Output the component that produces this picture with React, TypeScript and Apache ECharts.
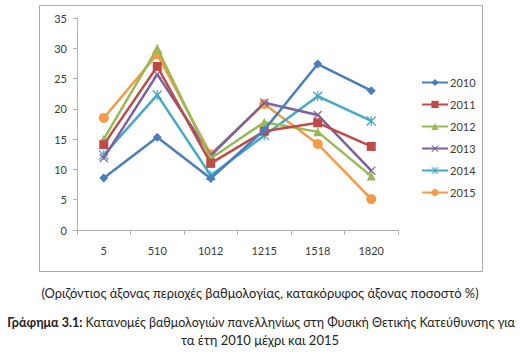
import React, { useEffect, useRef } from "react";
import * as echarts from "echarts";

const categories = ["5", "510", "1012", "1215", "1518", "1820"];
const years = ["2010", "2011", "2012", "2013", "2014", "2015"];
const s2010 = [8.6, 15.3, 8.5, 16.5, 27.4, 23.0];
const s2011 = [14.1, 27.0, 11.0, 16.3, 17.7, 13.8];
const s2012 = [15.0, 30.0, 11.8, 17.8, 16.2, 8.9];
const s2013 = [11.9, 25.7, 12.3, 21.0, 19.0, 9.8];
const s2014 = [12.4, 22.3, 9.0, 15.6, 22.1, 18.0];
const s2015 = [18.5, 29.0, 12.5, 20.8, 14.2, 5.1];
const seriesValues = [s2010, s2011, s2012, s2013, s2014, s2015];
const colors = ["#4A7EBB", "#BE4B48", "#98B954", "#7D60A0", "#46AAC5", "#F59A45"];
const symbols = [
  "diamond",
  "rect",
  "triangle",
  "path://M0,1 L1,0 L5,4 L9,0 L10,1 L6,5 L10,9 L9,10 L5,6 L1,10 L0,9 L4,5 Z",
  "path://M0,1 L1,0 L5,4 L9,0 L10,1 L6,5 L10,9 L9,10 L5,6 L1,10 L0,9 L4,5 Z M4.4,0 L5.6,0 L5.6,10 L4.4,10 Z",
  "circle",
];
const symbolSizes = [9, 9, 9, 9, 10, 10];
const yTicks = { min: 0, max: 35, interval: 5 };
const caption1 = "(Οριζόντιος άξονας περιοχές βαθμολογίας, κατακόρυφος άξονας ποσοστό %)";
const captionBold = "Γράφημα 3.1:";
const caption2 = " Κατανομές βαθμολογιών πανελληνίως στη Φυσική Θετικής Κατεύθυνσης για";
const caption3 = "τα έτη 2010 μέχρι και 2015";

export default function App() {
  const ref = useRef<HTMLDivElement>(null);
  useEffect(() => {
    if (!ref.current) return;
    const chart = echarts.init(ref.current, null, { renderer: "svg" });
    const font = "Lato, 'Open Sans', sans-serif";
    chart.setOption({
      animation: false,
      textStyle: { fontFamily: font },
      grid: { left: 77, right: 122, top: 18, bottom: 125, containLabel: false },
      xAxis: {
        type: "category",
        data: categories,
        boundaryGap: true,
        axisLine: { lineStyle: { color: "#b0b0b0", width: 1 } },
        axisTick: { show: true, length: 5, inside: false, lineStyle: { color: "#b0b0b0" } },
        axisLabel: { color: "#3a3a3a", fontSize: 11, margin: 15, fontFamily: font },
        splitLine: { show: false },
      },
      yAxis: {
        type: "value",
        min: yTicks.min,
        max: yTicks.max,
        interval: yTicks.interval,
        axisLine: { show: true, lineStyle: { color: "#b0b0b0", width: 1 } },
        axisTick: { show: true, length: 4, lineStyle: { color: "#b0b0b0" } },
        axisLabel: { color: "#3a3a3a", fontSize: 11, margin: 10, fontFamily: font },
        splitLine: { show: false },
      },
      legend: {
        orient: "vertical",
        left: 416,
        top: 72,
        itemWidth: 26,
        itemHeight: 9,
        itemGap: 11,
        textStyle: { color: "#3a3a3a", fontSize: 11, fontFamily: font, padding: [0, 0, 0, -3] },
        data: years,
      },
      series: years.map((y, i) => ({
        name: y,
        type: "line",
        data: seriesValues[i],
        symbol: symbols[i],
        symbolSize: symbolSizes[i],
        showAllSymbol: true,
        lineStyle: { color: colors[i], width: 2.5 },
        itemStyle: { color: colors[i], borderColor: colors[i], borderWidth: 0 },
        z: 10 - i,
      })),
      graphic: [
        {
          type: "rect",
          shape: { x: 39.5, y: 5.5, width: 443, height: 266 },
          style: { fill: "none", stroke: "#a8a8a8", lineWidth: 1 },
          silent: true,
        },
        {
          type: "text",
          x: 260,
          y: 293,
          style: {
            text: caption1,
            textAlign: "center",
            textVerticalAlign: "middle",
            fill: "#222",
            fontSize: 12.9,
            fontFamily: font,
          },
        },
        {
          type: "text",
          x: 261,
          y: 322,
          style: {
            text: "{b|" + captionBold + "}{n|" + caption2 + "}",
            textAlign: "center",
            textVerticalAlign: "middle",
            fill: "#222",
            fontSize: 12.5,
            fontFamily: font,
            rich: {
              b: { fontWeight: "bold", fontSize: 12.5, fontFamily: font, fill: "#222" },
              n: { fontSize: 12.5, fontFamily: font, fill: "#222" },
            },
          },
        },
        {
          type: "text",
          x: 260,
          y: 340,
          style: {
            text: caption3,
            textAlign: "center",
            textVerticalAlign: "middle",
            fill: "#222",
            fontSize: 13,
            fontFamily: font,
          },
        },
      ],
    });
    return () => chart.dispose();
  }, []);
  return (
    <div
      ref={ref}
      style={{ position: "absolute", left: 0, top: 0, width: 520, height: 355, background: "#fff" }}
    />
  );
}
